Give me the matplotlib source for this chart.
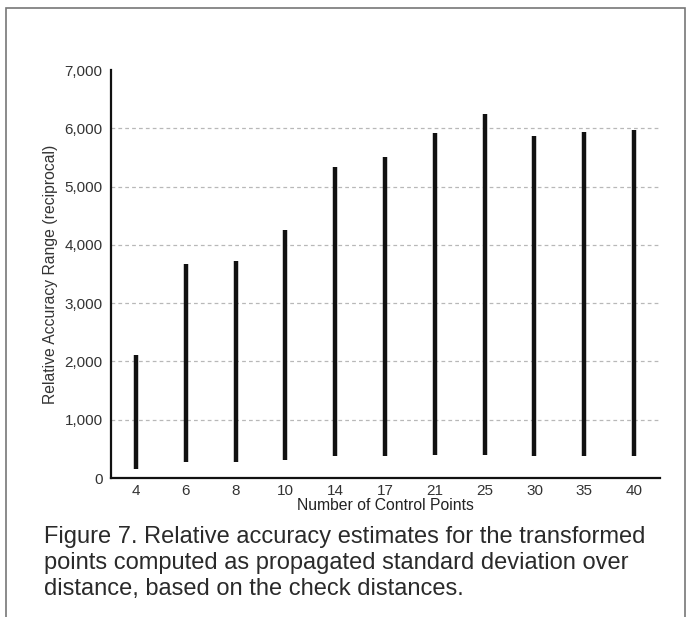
import matplotlib as mpl
import matplotlib.pyplot as plt
from matplotlib.patches import Rectangle

mpl.rcParams.update({
    "font.family": ["Liberation Sans", "DejaVu Sans"],
    "axes.spines.top": False, "axes.spines.right": False,
})

control_points = ["4", "6", "8", "10", "14", "17", "21", "25", "30", "35", "40"]
range_low = [150, 280, 280, 310, 380, 380, 400, 400, 370, 370, 380]
range_high = [2110, 3680, 3730, 4250, 5340, 5500, 5920, 6240, 5870, 5940, 5970]
y_ticks = [0, 1000, 2000, 3000, 4000, 5000, 6000, 7000]
caption = [
    "Figure 7. Relative accuracy estimates for the transformed",
    "points computed as propagated standard deviation over",
    "distance, based on the check distances.",
]

W, H = 689, 617
fig = plt.figure(figsize=(W / 100, H / 100), dpi=100)
ax = fig.add_axes([111 / W, 1 - 478 / H, (660 - 111) / W, (478 - 70) / H])

x = range(len(control_points))
ax.vlines(x, range_low, range_high, color="#111111", lw=3.2, zorder=3)

ax.set_xlim(-0.5, 10.52)
ax.set_ylim(0, 7000)
ax.set_xticks(list(x))
ax.set_xticklabels(control_points)
ax.set_yticks(y_ticks)
ax.set_yticklabels([f"{v:,}" for v in y_ticks])
ax.tick_params(length=0, labelsize=11, colors="#333333", pad=6)
ax.tick_params(axis="x", pad=4)
for s in ("left", "bottom"):
    ax.spines[s].set_linewidth(1.6)
    ax.spines[s].set_color("#111111")

for v in y_ticks[1:-1]:
    ax.axhline(v, color="#b8b8b8", lw=0.9, ls=(0, (3, 2.5)), zorder=1)

ax.set_ylabel("Relative Accuracy Range (reciprocal)", fontsize=11.3, color="#333333", labelpad=5)
ax.set_xlabel("Number of Control Points", fontsize=11.3, color="#222222", labelpad=0)

for i, line in enumerate(caption):
    fig.text(44 / W, 1 - (537 + 26 * i) / H, line, fontsize=17, color="#2a2a2a",
             ha="left", va="center")

fig.patches.append(Rectangle((6 / W, -0.05), (685 - 6) / W, 1.05 - 8 / H,
                             transform=fig.transFigure, fill=False,
                             edgecolor="#777777", lw=1.2))

fig.savefig("out.png", dpi=100)
